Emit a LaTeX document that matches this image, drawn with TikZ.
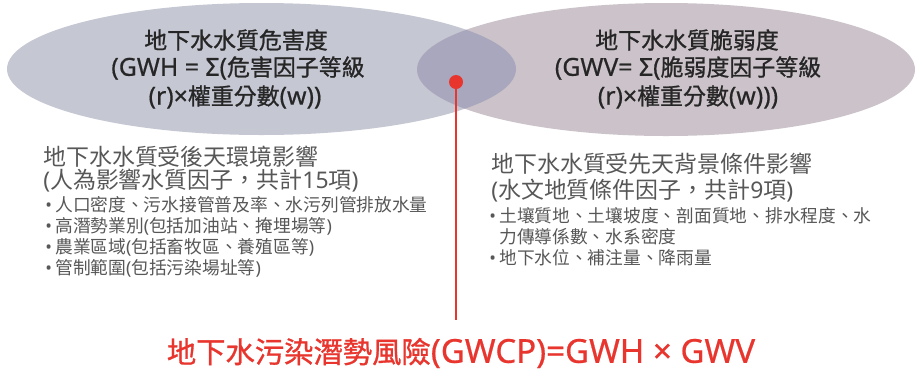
\documentclass[tikz,border=0pt]{standalone}
\usepackage{fontspec}
\setmainfont{Noto Sans CJK TC}
\newfontfamily\heavycjk[FakeBold=1.0]{Noto Sans CJK TC}
\newfontfamily\latf{Noto Sans}
\newfontfamily\heavylatf[FakeBold=0.6]{Noto Sans}
\newcommand{\lt}[1]{{\latf #1}}
\newcommand{\hlt}[1]{{\heavylatf\fontsize{18.6pt}{20pt}\selectfont #1}}
\newcommand{\rlt}[1]{{\heavylatf\fontsize{24.8pt}{26pt}\selectfont #1}}
\newcommand{\bul}{\makebox[7.5pt][l]{\latf •}}
\definecolor{leftfill}{HTML}{C5C7D3}
\definecolor{rightfill}{HTML}{CBC3C9}
\definecolor{overfill}{HTML}{A9A7BD}
\definecolor{riskred}{HTML}{E8352E}
\definecolor{titletext}{HTML}{262626}
\definecolor{bodytext}{HTML}{575757}
\begin{document}
\begin{tikzpicture}[x=0.75pt,y=-0.75pt,
  titleline/.style={inner sep=0pt, text=titletext, font=\heavycjk\fontsize{17.2pt}{20pt}\selectfont},
  headline/.style={anchor=west, inner sep=0pt, text=bodytext, font=\fontsize{17.2pt}{20pt}\selectfont},
  bulletline/.style={anchor=west, inner sep=0pt, text=bodytext, font=\fontsize{13.3pt}{16pt}\selectfont},
  risktext/.style={inner sep=0pt, text=riskred, font=\heavycjk\fontsize{22pt}{26pt}\selectfont}]
\useasboundingbox (0,0) rectangle (920,372);
% ellipses
\fill[leftfill] (261.5,69) ellipse [x radius=254.5, y radius=66];
\fill[rightfill] (666,69.5) ellipse [x radius=249, y radius=66.5];
\begin{scope}
  \clip (261.5,69) ellipse [x radius=254.5, y radius=66];
  \fill[overfill] (666,69.5) ellipse [x radius=249, y radius=66.5];
\end{scope}
% ellipse texts
\node[titleline] (h1) at (236,40) {地下水水質危害度};
\node[titleline] (h2) at (238,68) {\hlt{(GWH = Σ(}危害因子等級};
\node[titleline] (h3) at (235,97) {\hlt{(r)×}權重分數\hlt{(w))}};
\node[titleline] (v1) at (687,40) {地下水水質脆弱度};
\node[titleline] (v2) at (688,68) {\hlt{(GWV= Σ(}脆弱度因子等級};
\node[titleline] (v3) at (688,97) {\hlt{(r)×}權重分數\hlt{(w)))}};
% lower left block
\node[headline] (la) at (43,157) {地下水水質受後天環境影響};
\node[headline] (lb) at (43,181) {\lt{(}人為影響水質因子，共計\lt{15}項\lt{)}};
\node[bulletline] (lc) at (45,205) {\bul 人口密度、污水接管普及率、水污列管排放水量};
\node[bulletline] (ld) at (45,226) {\bul 高潛勢業別\lt{(}包括加油站、掩埋場等\lt{)}};
\node[bulletline] (le) at (45,247) {\bul 農業區域\lt{(}包括畜牧區、養殖區等\lt{)}};
\node[bulletline] (lf) at (45,268) {\bul 管制範圍\lt{(}包括污染場址等\lt{)}};
% lower right block
\node[headline] (ra) at (491,164) {地下水水質受先天背景條件影響};
\node[headline] (rb) at (491,191) {\lt{(}水文地質條件因子，共計\lt{9}項\lt{)}};
\node[bulletline] (rc) at (489,216) {\bul 土壤質地、土壤坡度、剖面質地、排水程度、水};
\node[bulletline] (rd) at (489,237) {\makebox[7.5pt][l]{}力傳導係數、水系密度};
\node[bulletline] (re) at (489,258) {\bul 地下水位、補注量、降雨量};
% red connector
\node[circle, fill=riskred, inner sep=0pt, minimum size=10.5pt] (dot) at (456,82) {};
\coordinate (lineend) at (456,320);
\draw[riskred, line width=1.5pt] (dot.center) -- (lineend);
\node[risktext] (risk) at (461,353) {地下水污染潛勢風險\rlt{(GWCP)=GWH × GWV}};
\end{tikzpicture}
\end{document}
